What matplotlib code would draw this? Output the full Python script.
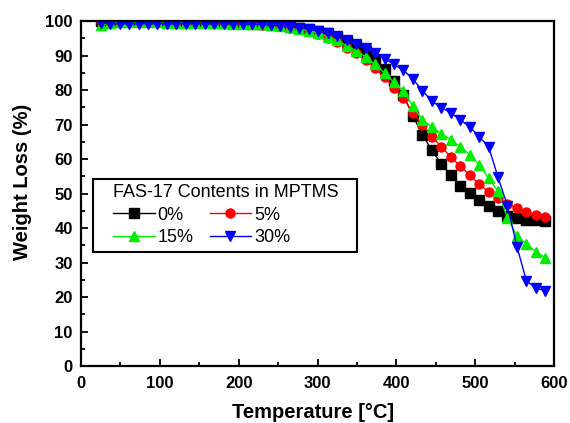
import matplotlib
matplotlib.use("Agg")
import matplotlib.pyplot as plt
from matplotlib.ticker import MultipleLocator
from matplotlib.patches import Rectangle

plt.rcParams['font.family'] = ['Liberation Sans', 'DejaVu Sans']

temps = [25, 37, 49, 61, 73, 85, 97, 109, 121, 133, 145, 157, 169, 181, 193, 205,
         217, 229, 241, 253, 265, 277, 289, 301, 313, 325, 337, 349, 361, 373, 385,
         397, 409, 421, 433, 445, 457, 469, 481, 493, 505, 517, 529, 541, 553, 565,
         577, 589]

w0 = [100, 100, 100, 100, 100, 100, 100, 100, 99.9, 99.8, 99.8, 99.7, 99.6, 99.5,
      99.4, 99.3, 99.2, 99.0, 98.9, 98.7, 98.4, 98.1, 97.7, 97.2, 96.5, 95.5, 94.3,
      92.9, 91.2, 89.0, 86.2, 82.5, 78.5, 72.5, 67.0, 62.6, 58.6, 55.4, 52.3, 50.1,
      48.1, 46.4, 44.9, 43.6, 42.8, 42.4, 42.2, 42.1]

w5 = [99.9, 99.9, 99.9, 99.9, 99.9, 99.8, 99.8, 99.8, 99.7, 99.7, 99.6, 99.5, 99.4,
      99.3, 99.2, 99.1, 99.0, 98.9, 98.8, 98.5, 98.1, 97.6, 97.0, 96.2, 95.1, 93.8,
      92.1, 90.6, 88.6, 86.4, 83.7, 80.6, 77.6, 73.4, 70.0, 66.5, 63.6, 60.6, 58.0,
      55.4, 52.7, 50.5, 48.6, 47.1, 45.8, 44.6, 43.7, 43.2]

w15 = [98.8, 99.5, 99.6, 99.6, 99.6, 99.6, 99.6, 99.5, 99.5, 99.5, 99.4, 99.4, 99.3,
       99.3, 99.2, 99.2, 99.1, 99.0, 98.9, 98.6, 98.3, 97.8, 97.2, 96.5, 95.5, 94.4,
       92.8, 91.4, 89.6, 87.4, 84.9, 82.2, 79.8, 75.3, 71.4, 69.3, 67.3, 65.6, 63.6,
       61.3, 58.3, 54.4, 50.6, 42.9, 37.7, 35.4, 33.1, 31.4]

w30 = [99.5, 99.2, 99.2, 99.2, 99.2, 99.2, 99.2, 99.2, 99.2, 99.2, 99.2, 99.2, 99.2,
       99.2, 99.2, 99.1, 99.1, 99.0, 98.8, 98.6, 98.3, 98.0, 97.6, 97.1, 96.4, 95.6,
       94.4, 93.3, 92.1, 90.8, 89.1, 87.4, 85.7, 83.2, 79.8, 76.8, 74.9, 73.4, 71.4,
       69.3, 66.5, 63.6, 54.7, 46.4, 34.6, 24.7, 22.6, 21.8]

labels = ['0%', '5%', '15%', '30%']
colors = ['#000000', '#ff0000', '#00ee00', '#0000ff']
markers = ['s', 'o', '^', 'v']
series = [w0, w5, w15, w30]

fig = plt.figure(figsize=(5.70, 4.23), dpi=100)
ax = fig.add_axes([81 / 570, 57 / 423, 473 / 570, 345 / 423])

handles = []
for ys, lab, c, m in zip(series, labels, colors, markers):
    h, = ax.plot(temps, ys, color=c, marker=m, markersize=6.5, linewidth=1.0,
                 markeredgecolor=c, label=lab)
    handles.append(h)

ax.set_xlim(0, 600)
ax.set_ylim(0, 100)
ax.xaxis.set_major_locator(MultipleLocator(100))
ax.xaxis.set_minor_locator(MultipleLocator(50))
ax.yaxis.set_major_locator(MultipleLocator(10))
ax.yaxis.set_minor_locator(MultipleLocator(5))
ax.tick_params(which='both', direction='in', top=False, right=False, width=1.3)
ax.tick_params(which='major', length=5, labelsize=12)
ax.tick_params(which='minor', length=3)
ax.tick_params(axis='x', which='major', pad=7)
ax.tick_params(axis='y', which='major', pad=6)
for lbl in ax.get_xticklabels() + ax.get_yticklabels():
    lbl.set_fontweight('bold')
for sp in ax.spines.values():
    sp.set_linewidth(1.6)

ax.set_xlabel('Temperature [°C]', fontsize=14.5, fontweight='bold')
ax.set_ylabel('Weight Loss (%)', fontsize=14.5, fontweight='bold')
ax.xaxis.set_label_coords(0.49, -0.107)
ax.yaxis.set_label_coords(-0.104, 0.533)

# legend frame
ax.add_patch(Rectangle((0.025, 0.33), 0.558, 0.212, transform=ax.transAxes,
                       facecolor='white', edgecolor='black', linewidth=1.5,
                       zorder=5))

order = [0, 2, 1, 3]
leg = ax.legend([handles[i] for i in order], [labels[i] for i in order],
                title='FAS-17 Contents in MPTMS', ncol=2, loc='upper left',
                bbox_to_anchor=(0.068, 0.527), fontsize=13, title_fontsize=13,
                frameon=False, borderpad=0, borderaxespad=0,
                handlelength=2.3, handletextpad=0.15, columnspacing=0.9,
                labelspacing=0.3, markerscale=1.0)
leg.set_zorder(6)
leg._legend_box.align = 'left'

fig.savefig('out.png', dpi=100)
